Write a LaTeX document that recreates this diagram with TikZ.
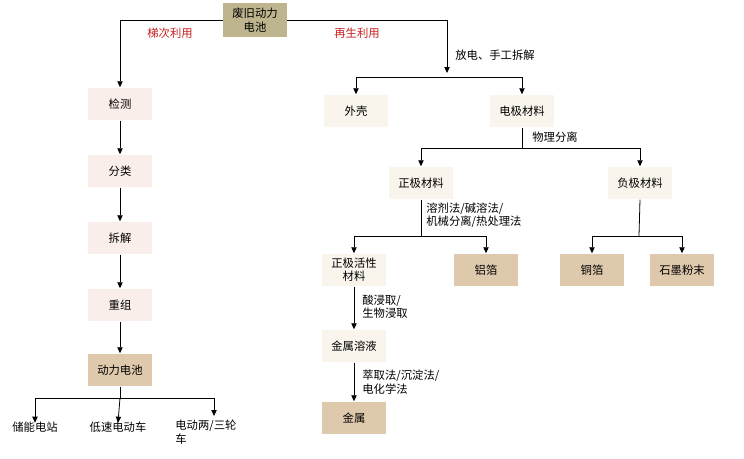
\documentclass[tikz,border=0pt]{standalone}
\usepackage{fontspec}
\setmainfont{Noto Sans CJK SC}
\usetikzlibrary{arrows.meta}
\definecolor{olive}{RGB}{190, 181, 142}
\definecolor{pink}{RGB}{250, 238, 235}
\definecolor{beige}{RGB}{249, 245, 237}
\definecolor{tan}{RGB}{222, 201, 172}
\definecolor{redlab}{RGB}{200, 30, 30}

\tikzset{
  box/.style={minimum width=48pt, minimum height=24.5pt, inner sep=1pt, align=center, font=\fontsize{8.5}{10}\selectfont},
  pinkbox/.style={box, fill=pink},
  lightbox/.style={box, fill=beige},
  tanbox/.style={box, fill=tan},
  lab/.style={font=\fontsize{8.5}{10}\selectfont, align=left, inner sep=0pt},
  arr/.style={-{Triangle[width=4pt,length=4.5pt]}},
}

\begin{document}
\begin{tikzpicture}[x=0.75pt, y=-0.75pt, line width=0.6pt]
  \useasboundingbox (0, 0) rectangle (744, 458);

  \node[box, fill=olive, minimum height=25pt] (top) at (255, 20) {废旧动力\\电池};

  % left branch
  \node[pinkbox] (jiance) at (120, 104) {检测};
  \node[pinkbox] (fenlei) at (120, 171) {分类};
  \node[pinkbox] (chaijie) at (120, 238) {拆解};
  \node[pinkbox] (chongzu) at (120, 305) {重组};
  \node[tanbox] (dongli) at (120, 370) {动力电池};
  \node[lab] (chuneng) at (35, 427) {储能电站};
  \node[lab] (disu) at (118, 427) {低速电动车};
  \node[lab, anchor=north west] (liangsan) at (175, 420) {电动两/三轮\\车};

  \draw[arr] (top.west) -| (jiance.north);
  \draw[arr] (jiance) -- (fenlei);
  \draw[arr] (fenlei) -- (chaijie);
  \draw[arr] (chaijie) -- (chongzu);
  \draw[arr] (chongzu) -- (dongli);
  \coordinate (split2) at (120, 398);
  \draw (dongli) -- (split2);
  \draw[arr] (split2) -| ([yshift=-1pt]chuneng.north);
  \draw[arr] (split2) -- ([yshift=-1pt]disu.north);
  \draw[arr] (split2) -| (214, 416);
  \node[lab, text=redlab] at (170, 33) {梯次利用};
  \node[lab, text=redlab] at (357, 33) {再生利用};

  % right branch
  \node[lightbox] (waike) at (356, 111) {外壳};
  \node[lightbox] (dianji) at (522, 111) {电极材料};
  \coordinate (split1) at (447, 73);
  \draw[arr] (top.east) -| (split1);
  \node[lab] at (495, 55) {放电、手工拆解};
  \draw[arr] (447, 77) -| (waike.north);
  \draw[arr] (447, 77) -| (dianji.north);

  \node[lightbox] (zheng) at (421, 183) {正极材料};
  \node[lightbox] (fu) at (640, 183) {负极材料};
  \draw (dianji.south) -- (522, 148);
  \node[lab] at (555, 137) {物理分离};
  \draw[arr] (522, 148) -| (zheng.north);
  \draw[arr] (522, 148) -| (fu.north);

  \node[lightbox] (huoxing) at (354, 270) {正极活性\\材料};
  \node[tanbox] (lvbo) at (486, 270) {铝箔};
  \draw (zheng.south) -- (421, 236);
  \node[lab, anchor=west] at (426, 215) {溶剂法/碱溶法/\\机械分离/热处理法};
  \draw[arr] (421, 236) -| (huoxing.north);
  \draw[arr] (421, 236) -| (lvbo.north);

  \node[tanbox] (tongbo) at (592, 270) {铜箔};
  \node[tanbox] (shimo) at (682, 270) {石墨粉末};
  \draw (fu.south) -- (639, 236);
  \draw[arr] (639, 236) -| (tongbo.north);
  \draw[arr] (639, 236) -| (shimo.north);

  \node[lightbox] (rongye) at (354, 346) {金属溶液};
  \draw[arr] (huoxing) -- (rongye);
  \node[lab, anchor=west] at (362, 307) {酸浸取/\\生物浸取};
  \node[tanbox] (jinshu) at (354, 418) {金属};
  \draw[arr] (rongye) -- (jinshu);
  \node[lab, anchor=west] at (362, 382) {萃取法/沉淀法/\\电化学法};
\end{tikzpicture}
\end{document}
